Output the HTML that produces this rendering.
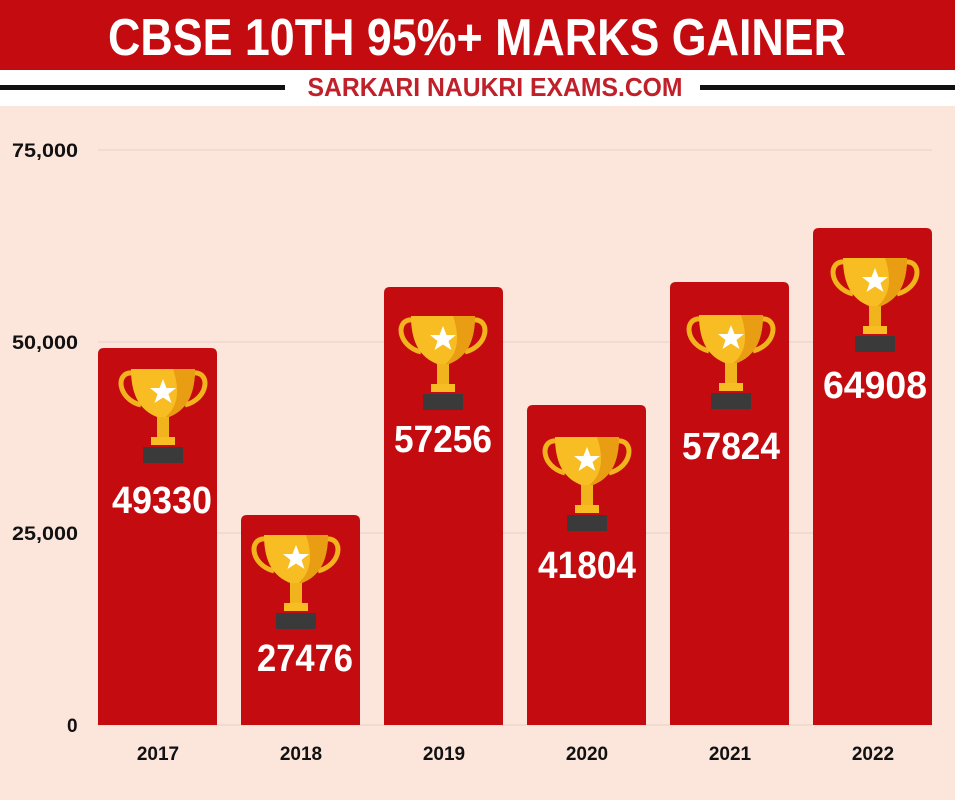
<!DOCTYPE html>
<html><head><meta charset="utf-8"><style>
html,body{margin:0;padding:0;background:#fce6dc}
svg{display:block}
</style></head><body>
<svg width="955" height="800" viewBox="0 0 955 800" xmlns="http://www.w3.org/2000/svg" font-family="'Liberation Sans', sans-serif" font-weight="bold">
<defs>
<g id="tr">
 <path d="M-30 4 C-48 2 -46 30 -22 36" fill="none" stroke="#f2b41c" stroke-width="5"/>
 <path d="M30 4 C48 2 46 30 22 36" fill="none" stroke="#f2b41c" stroke-width="5"/>
 <path d="M-32 0 H32 C32 28 22 44 0 50 C-22 44 -32 28 -32 0 Z" fill="#f7bd23"/>
 <path d="M10 0 H32 C32 28 22 44 0 50 C14 40 18 24 10 0 Z" fill="#e89d12"/>
 <polygon points="0,10 3.5,19 13,19 5.5,25 8.5,34 0,28.5 -8.5,34 -5.5,25 -13,19 -3.5,19" fill="#fff"/>
 <rect x="-6" y="48" width="12" height="22" fill="#f2b41c"/>
 <rect x="-12" y="68" width="24" height="8" fill="#f7bd23"/>
 <rect x="-20" y="78" width="40" height="16" fill="#3a3a3a"/>
</g>
</defs>
<rect x="0" y="0" width="955" height="70" fill="#c40c10"/>
<rect x="0" y="70" width="955" height="36" fill="#ffffff"/>
<text x="477" y="55" font-size="52" fill="#fff" text-anchor="middle" textLength="738" lengthAdjust="spacingAndGlyphs">CBSE 10TH 95%+ MARKS GAINER</text>
<rect x="0" y="85" width="285" height="5" fill="#111"/>
<rect x="700" y="85" width="255" height="5" fill="#111"/>
<text x="495" y="96" font-size="26" fill="#c0202a" text-anchor="middle" textLength="375" lengthAdjust="spacingAndGlyphs">SARKARI NAUKRI EXAMS.COM</text>
<g stroke="#e6d0c6" stroke-width="1">
<line x1="98" y1="150" x2="932" y2="150"/><line x1="98" y1="342" x2="932" y2="342"/><line x1="98" y1="533" x2="932" y2="533"/><line x1="98" y1="725" x2="932" y2="725"/>
</g>
<g font-size="19" fill="#111">
<text x="12" y="157" textLength="66" lengthAdjust="spacingAndGlyphs">75,000</text>
<text x="12" y="349" textLength="66" lengthAdjust="spacingAndGlyphs">50,000</text>
<text x="12" y="540" textLength="66" lengthAdjust="spacingAndGlyphs">25,000</text>
<text x="67" y="732">0</text>
</g>
<g fill="#c40c10">
<path d="M98 725 V354 Q98 348 104 348 H211 Q217 348 217 354 V725 Z"/>
<path d="M241 725 V521 Q241 515 247 515 H354 Q360 515 360 521 V725 Z"/>
<path d="M384 725 V293 Q384 287 390 287 H497 Q503 287 503 293 V725 Z"/>
<path d="M527 725 V411 Q527 405 533 405 H640 Q646 405 646 411 V725 Z"/>
<path d="M670 725 V288 Q670 282 676 282 H783 Q789 282 789 288 V725 Z"/>
<path d="M813 725 V234 Q813 228 819 228 H926 Q932 228 932 234 V725 Z"/>
</g>
<use href="#tr" x="163" y="369"/>
<use href="#tr" x="296" y="535"/>
<use href="#tr" x="443" y="316"/>
<use href="#tr" x="587" y="437"/>
<use href="#tr" x="731" y="315"/>
<use href="#tr" x="875" y="258"/>
<g font-size="38" fill="#fff" text-anchor="middle">
<text x="162" y="513" textLength="100" lengthAdjust="spacingAndGlyphs">49330</text>
<text x="305" y="671" textLength="96" lengthAdjust="spacingAndGlyphs">27476</text>
<text x="443" y="452" textLength="98" lengthAdjust="spacingAndGlyphs">57256</text>
<text x="587" y="578" textLength="98" lengthAdjust="spacingAndGlyphs">41804</text>
<text x="731" y="459" textLength="98" lengthAdjust="spacingAndGlyphs">57824</text>
<text x="875" y="398" textLength="104" lengthAdjust="spacingAndGlyphs">64908</text>
</g>
<g font-size="19" fill="#111" text-anchor="middle">
<text x="158" y="760">2017</text><text x="301" y="760">2018</text><text x="444" y="760">2019</text>
<text x="587" y="760">2020</text><text x="730" y="760">2021</text><text x="873" y="760">2022</text>
</g>
</svg>
</body></html>
